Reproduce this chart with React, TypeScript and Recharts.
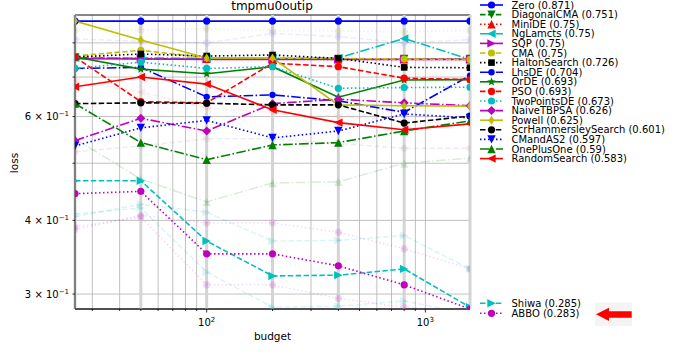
import { LineChart, Line, XAxis, YAxis, CartesianGrid, ReferenceLine, ReferenceArea } from "recharts"

const budgets = [25, 50, 100, 200, 400, 800, 1600]
const xTicks = [30, 40, 50, 60, 70, 80, 90, 100, 200, 300, 400, 500, 600, 700, 800, 900, 1000]
const yTicks = [0.3, 0.4, 0.5, 0.6, 0.7, 0.8]
const yLabels = [0.3, 0.4, 0.6]

// loss per budget, main series
const zero = [0.871, 0.871, 0.871, 0.871, 0.871, 0.871, 0.871]
const diagonalCMA = [0.756, 0.752, 0.751, 0.751, 0.751, 0.751, 0.751]
const miniDE = [0.757, 0.753, 0.752, 0.751, 0.75, 0.75, 0.75]
const ngLamcts = [0.755, 0.754, 0.753, 0.753, 0.754, 0.814, 0.75]
const sqp = [0.752, 0.751, 0.75, 0.75, 0.75, 0.75, 0.75]
const cma = [0.76, 0.777, 0.755, 0.754, 0.753, 0.751, 0.75]
const haltonSearch = [0.757, 0.766, 0.76, 0.763, 0.753, 0.727, 0.726]
const lhsDE = [0.724, 0.727, 0.648, 0.653, 0.638, 0.61, 0.704]
const orDE = [0.757, 0.722, 0.709, 0.729, 0.647, 0.692, 0.693]
const pso = [0.757, 0.636, 0.633, 0.739, 0.729, 0.697, 0.693]
const twoPointsDE = [0.724, 0.742, 0.724, 0.729, 0.67, 0.672, 0.673]
const naiveTBPSA = [0.546, 0.596, 0.567, 0.631, 0.642, 0.633, 0.626]
const powell = [0.871, 0.809, 0.754, 0.754, 0.628, 0.626, 0.625]
const scrHammersley = [0.631, 0.633, 0.632, 0.628, 0.628, 0.585, 0.601]
const cmandAS2 = [0.535, 0.574, 0.591, 0.552, 0.567, 0.606, 0.597]
const onePlusOne = [0.631, 0.542, 0.507, 0.537, 0.542, 0.567, 0.59]
const randomSearch = [0.674, 0.7, 0.681, 0.616, 0.586, 0.57, 0.583]
const shiwa = [0.467, 0.467, 0.369, 0.322, 0.323, 0.331, 0.285]
const abbo = [0.444, 0.448, 0.351, 0.351, 0.335, 0.311, 0.283]

// faded background runs
const ghostOlive = [0.84, 0.842, 0.845, 0.84, 0.838, 0.835, 0.84]
const ghostLavender = [0.812, 0.805, 0.8, 0.83, 0.82, 0.8, 0.81]
const ghostPink = [0.69, 0.66, 0.62, 0.61, 0.6, 0.59, 0.58]
const ghostGray = [0.523, 0.535, 0.55, 0.55, 0.54, 0.53, 0.53]
const ghostGreen = [0.55, 0.47, 0.43, 0.463, 0.465, 0.5, 0.51]
const ghostShiwa = [0.406, 0.426, 0.413, 0.369, 0.37, 0.377, 0.331]
const ghostAbbo = [0.386, 0.408, 0.396, 0.396, 0.382, 0.358, 0.331]
const ghostShiwa2 = [0.41, 0.42, 0.327, 0.285, 0.286, 0.292, 0.278]
const ghostAbbo2 = [0.39, 0.405, 0.311, 0.311, 0.295, 0.285, 0.28]

const B = "#0000ff", G = "#008000", R = "#ff0000", C = "#00bfbf", M = "#bf00bf", Y = "#bfbf00", K = "#000000"
const SOLID = undefined
const DASH = "5.5 2.4"
const DOT = "1.5 2.5"
const DASHDOT = "9.6 2.4 1.5 2.4"

type S = { name: string; values: number[]; color: string; dash?: string; marker: string }

const series: S[] = [
  { name: "Zero", values: zero, color: B, dash: SOLID, marker: "o" },
  { name: "DiagonalCMA", values: diagonalCMA, color: G, dash: DASH, marker: "v" },
  { name: "MiniDE", values: miniDE, color: R, dash: DOT, marker: "^" },
  { name: "NgLamcts", values: ngLamcts, color: C, dash: DASHDOT, marker: "<" },
  { name: "SQP", values: sqp, color: M, dash: SOLID, marker: ">" },
  { name: "CMA", values: cma, color: Y, dash: DASH, marker: "o" },
  { name: "HaltonSearch", values: haltonSearch, color: K, dash: DOT, marker: "s" },
  { name: "LhsDE", values: lhsDE, color: B, dash: DASHDOT, marker: "p" },
  { name: "OrDE", values: orDE, color: G, dash: SOLID, marker: "*" },
  { name: "PSO", values: pso, color: R, dash: DASH, marker: "o" },
  { name: "TwoPointsDE", values: twoPointsDE, color: C, dash: DOT, marker: "o" },
  { name: "NaiveTBPSA", values: naiveTBPSA, color: M, dash: DASHDOT, marker: "D" },
  { name: "Powell", values: powell, color: Y, dash: SOLID, marker: "d" },
  { name: "ScrHammersleySearch", values: scrHammersley, color: K, dash: DASH, marker: "o" },
  { name: "CMandAS2", values: cmandAS2, color: B, dash: DOT, marker: "v" },
  { name: "OnePlusOne", values: onePlusOne, color: G, dash: DASHDOT, marker: "^" },
  { name: "RandomSearch", values: randomSearch, color: R, dash: SOLID, marker: "<" },
  { name: "Shiwa", values: shiwa, color: C, dash: DASH, marker: ">" },
  { name: "ABBO", values: abbo, color: M, dash: DOT, marker: "o" },
]

const ghosts: S[] = [
  { name: "g1", values: ghostOlive, color: "#9a9a40", dash: DOT, marker: "o" },
  { name: "g2", values: ghostLavender, color: "#8080ff", dash: DASH, marker: "o" },
  { name: "g3", values: ghostPink, color: "#ff8080", dash: DASH, marker: "<" },
  { name: "g4", values: ghostGray, color: "#909090", dash: DASH, marker: "o" },
  { name: "g5", values: ghostGreen, color: G, dash: DASHDOT, marker: "^" },
  { name: "g6", values: ghostShiwa, color: C, dash: DASH, marker: ">" },
  { name: "g7", values: ghostAbbo, color: M, dash: DOT, marker: "o" },
  { name: "g8", values: ghostShiwa2, color: C, dash: DASH, marker: ">" },
  { name: "g9", values: ghostAbbo2, color: M, dash: DOT, marker: "o" },
]

const data = budgets.map((b, i) => {
  const row: Record<string, number> = { budget: b }
  series.forEach((s) => (row[s.name] = s.values[i]))
  ghosts.forEach((s) => (row[s.name] = s.values[i]))
  return row
})

function Marker({ shape, x, y, color }: { shape: string; x: number; y: number; color: string }) {
  const r = 3.6
  const t = 4.2
  switch (shape) {
    case "o":
      return <circle cx={x} cy={y} r={r} fill={color} />
    case "p":
      return <circle cx={x} cy={y} r={3.2} fill={color} />
    case "s":
      return <rect x={x - 3.3} y={y - 3.3} width={6.6} height={6.6} fill={color} />
    case "v":
      return <polygon points={`${x - t},${y - t} ${x + t},${y - t} ${x},${y + t}`} fill={color} />
    case "^":
      return <polygon points={`${x - t},${y + t} ${x + t},${y + t} ${x},${y - t}`} fill={color} />
    case "<":
      return <polygon points={`${x + t},${y - t} ${x + t},${y + t} ${x - t},${y}`} fill={color} />
    case ">":
      return <polygon points={`${x - t},${y - t} ${x - t},${y + t} ${x + t},${y}`} fill={color} />
    case "D":
      return <polygon points={`${x},${y - 4.5} ${x + 4.5},${y} ${x},${y + 4.5} ${x - 4.5},${y}`} fill={color} />
    case "d":
      return <polygon points={`${x},${y - 4.5} ${x + 3},${y} ${x},${y + 4.5} ${x - 3},${y}`} fill={color} />
    case "*": {
      const pts: string[] = []
      for (let k = 0; k < 10; k++) {
        const a = -Math.PI / 2 + (k * Math.PI) / 5
        const rr = k % 2 === 0 ? 4.5 : 1.9
        pts.push(`${x + rr * Math.cos(a)},${y + rr * Math.sin(a)}`)
      }
      return <polygon points={pts.join(" ")} fill={color} />
    }
    default:
      return <circle cx={x} cy={y} r={r} fill={color} />
  }
}

const XTick = (props: any) => {
  const { x, y, payload } = props
  const v = payload.value
  const major = v === 100 || v === 1000
  return (
    <g>
      <line x1={x} x2={x} y1={y} y2={y + (major ? 3.5 : 2)} stroke="#000" strokeWidth={0.8} />
      {major && (
        <text x={x} y={y + 17} textAnchor="middle" fontSize={10} fill="#000">
          10<tspan dy={-4} fontSize={7}>{v === 100 ? "2" : "3"}</tspan>
        </text>
      )}
    </g>
  )
}

const YTick = (props: any) => {
  const { x, y, payload } = props
  const v = payload.value
  const show = yLabels.some((l) => Math.abs(l - v) < 1e-9)
  return (
    <g>
      <line x1={x} x2={x - 2.5} y1={y} y2={y} stroke="#000" strokeWidth={0.8} />
      {show && (
        <text x={x - 6} y={y + 3.5} textAnchor="end" fontSize={10} fill="#000">
          {Math.round(v * 10)} × 10<tspan dy={-4} fontSize={7}>−1</tspan>
        </text>
      )}
    </g>
  )
}

function LegendRow({ s, y }: { s: S; y: number }) {
  return (
    <g>
      <line x1={480} x2={503} y1={y} y2={y} stroke={s.color} strokeWidth={1.6} strokeDasharray={s.dash} />
      <Marker shape={s.marker} x={491.5} y={y} color={s.color} />
      <text x={511.5} y={y + 3.6} fontSize={10} fill="#000">
        {s.name} ({s.values[s.values.length - 1]})
      </text>
    </g>
  )
}

export default function App() {
  const top = series.slice(0, 17)
  const bottom = series.slice(17)
  return (
    <div style={{ position: "absolute", left: 0, top: 0, width: 694, height: 352, background: "#fff", fontFamily: "DejaVu Sans" }}>
      <LineChart width={694} height={352} data={data} margin={{ top: 15, right: 224, bottom: 0, left: 0 }}>
        <CartesianGrid stroke="#b0b0b0" strokeWidth={0.8} />
        {budgets.map((b) => (
          <ReferenceLine key={`v${b}`} x={b} stroke="#d4d4d4" strokeWidth={3} />
        ))}
        <XAxis
          dataKey="budget"
          type="number"
          scale="log"
          domain={[25, 1600]}
          ticks={xTicks}
          allowDataOverflow
          height={43}
          tickSize={0}
          tickMargin={0}
          tickLine={false}
          axisLine={{ stroke: "#000", strokeWidth: 0.8 }}
          tick={<XTick />}
          interval={0}
        />
        <YAxis
          type="number"
          scale="log"
          domain={[0.283, 0.892]}
          ticks={yTicks}
          allowDataOverflow
          width={75}
          tickSize={0}
          tickMargin={0}
          tickLine={false}
          axisLine={{ stroke: "#000", strokeWidth: 0.8 }}
          tick={<YTick />}
          interval={0}
        />
        {ghosts.map((s) => (
          <Line
            key={s.name}
            dataKey={s.name}
            stroke={s.color}
            strokeOpacity={0.15}
            strokeWidth={1.5}
            strokeDasharray={s.dash}
            isAnimationActive={false}
            activeDot={false}
            dot={(p: any) => (
              <g key={`${s.name}-${p.index}`} opacity={0.15}>
                <Marker shape={s.marker} x={p.cx} y={p.cy} color={s.color} />
              </g>
            )}
          />
        ))}
        {series.map((s) => (
          <Line
            key={s.name}
            dataKey={s.name}
            stroke={s.color}
            strokeWidth={1.6}
            strokeDasharray={s.dash}
            isAnimationActive={false}
            activeDot={false}
            dot={(p: any) => <Marker key={`${s.name}-${p.index}`} shape={s.marker} x={p.cx} y={p.cy} color={s.color} />}
          />
        ))}
        <ReferenceArea x1={25} x2={1600} y1={0.283} y2={0.892} fill="none" stroke="#000" strokeWidth={0.8} />
      </LineChart>
      <svg width={694} height={352} style={{ position: "absolute", left: 0, top: 0, pointerEvents: "none" }}>
        <text x={272} y={10} textAnchor="middle" fontSize={12} fill="#000">tmpmu0outip</text>
        <text x={272.5} y={340} textAnchor="middle" fontSize={10.5} fill="#000">budget</text>
        <text x={17.5} y={163} textAnchor="middle" fontSize={10.5} fill="#000" transform="rotate(-90 17.5 163)">loss</text>
        {top.map((s, i) => (
          <LegendRow key={s.name} s={s} y={5 + i * 9.6} />
        ))}
        {bottom.map((s, i) => (
          <LegendRow key={s.name} s={s} y={303.3 + i * 10} />
        ))}
        <rect x={595} y={302.7} width={37} height={23.3} fill="#f4f4f4" />
        <polygon points="596,314.3 609,307.7 609,311.3 631.7,311.3 631.7,317.7 609,317.7 609,321 " fill="#ff0000" />
      </svg>
    </div>
  )
}
